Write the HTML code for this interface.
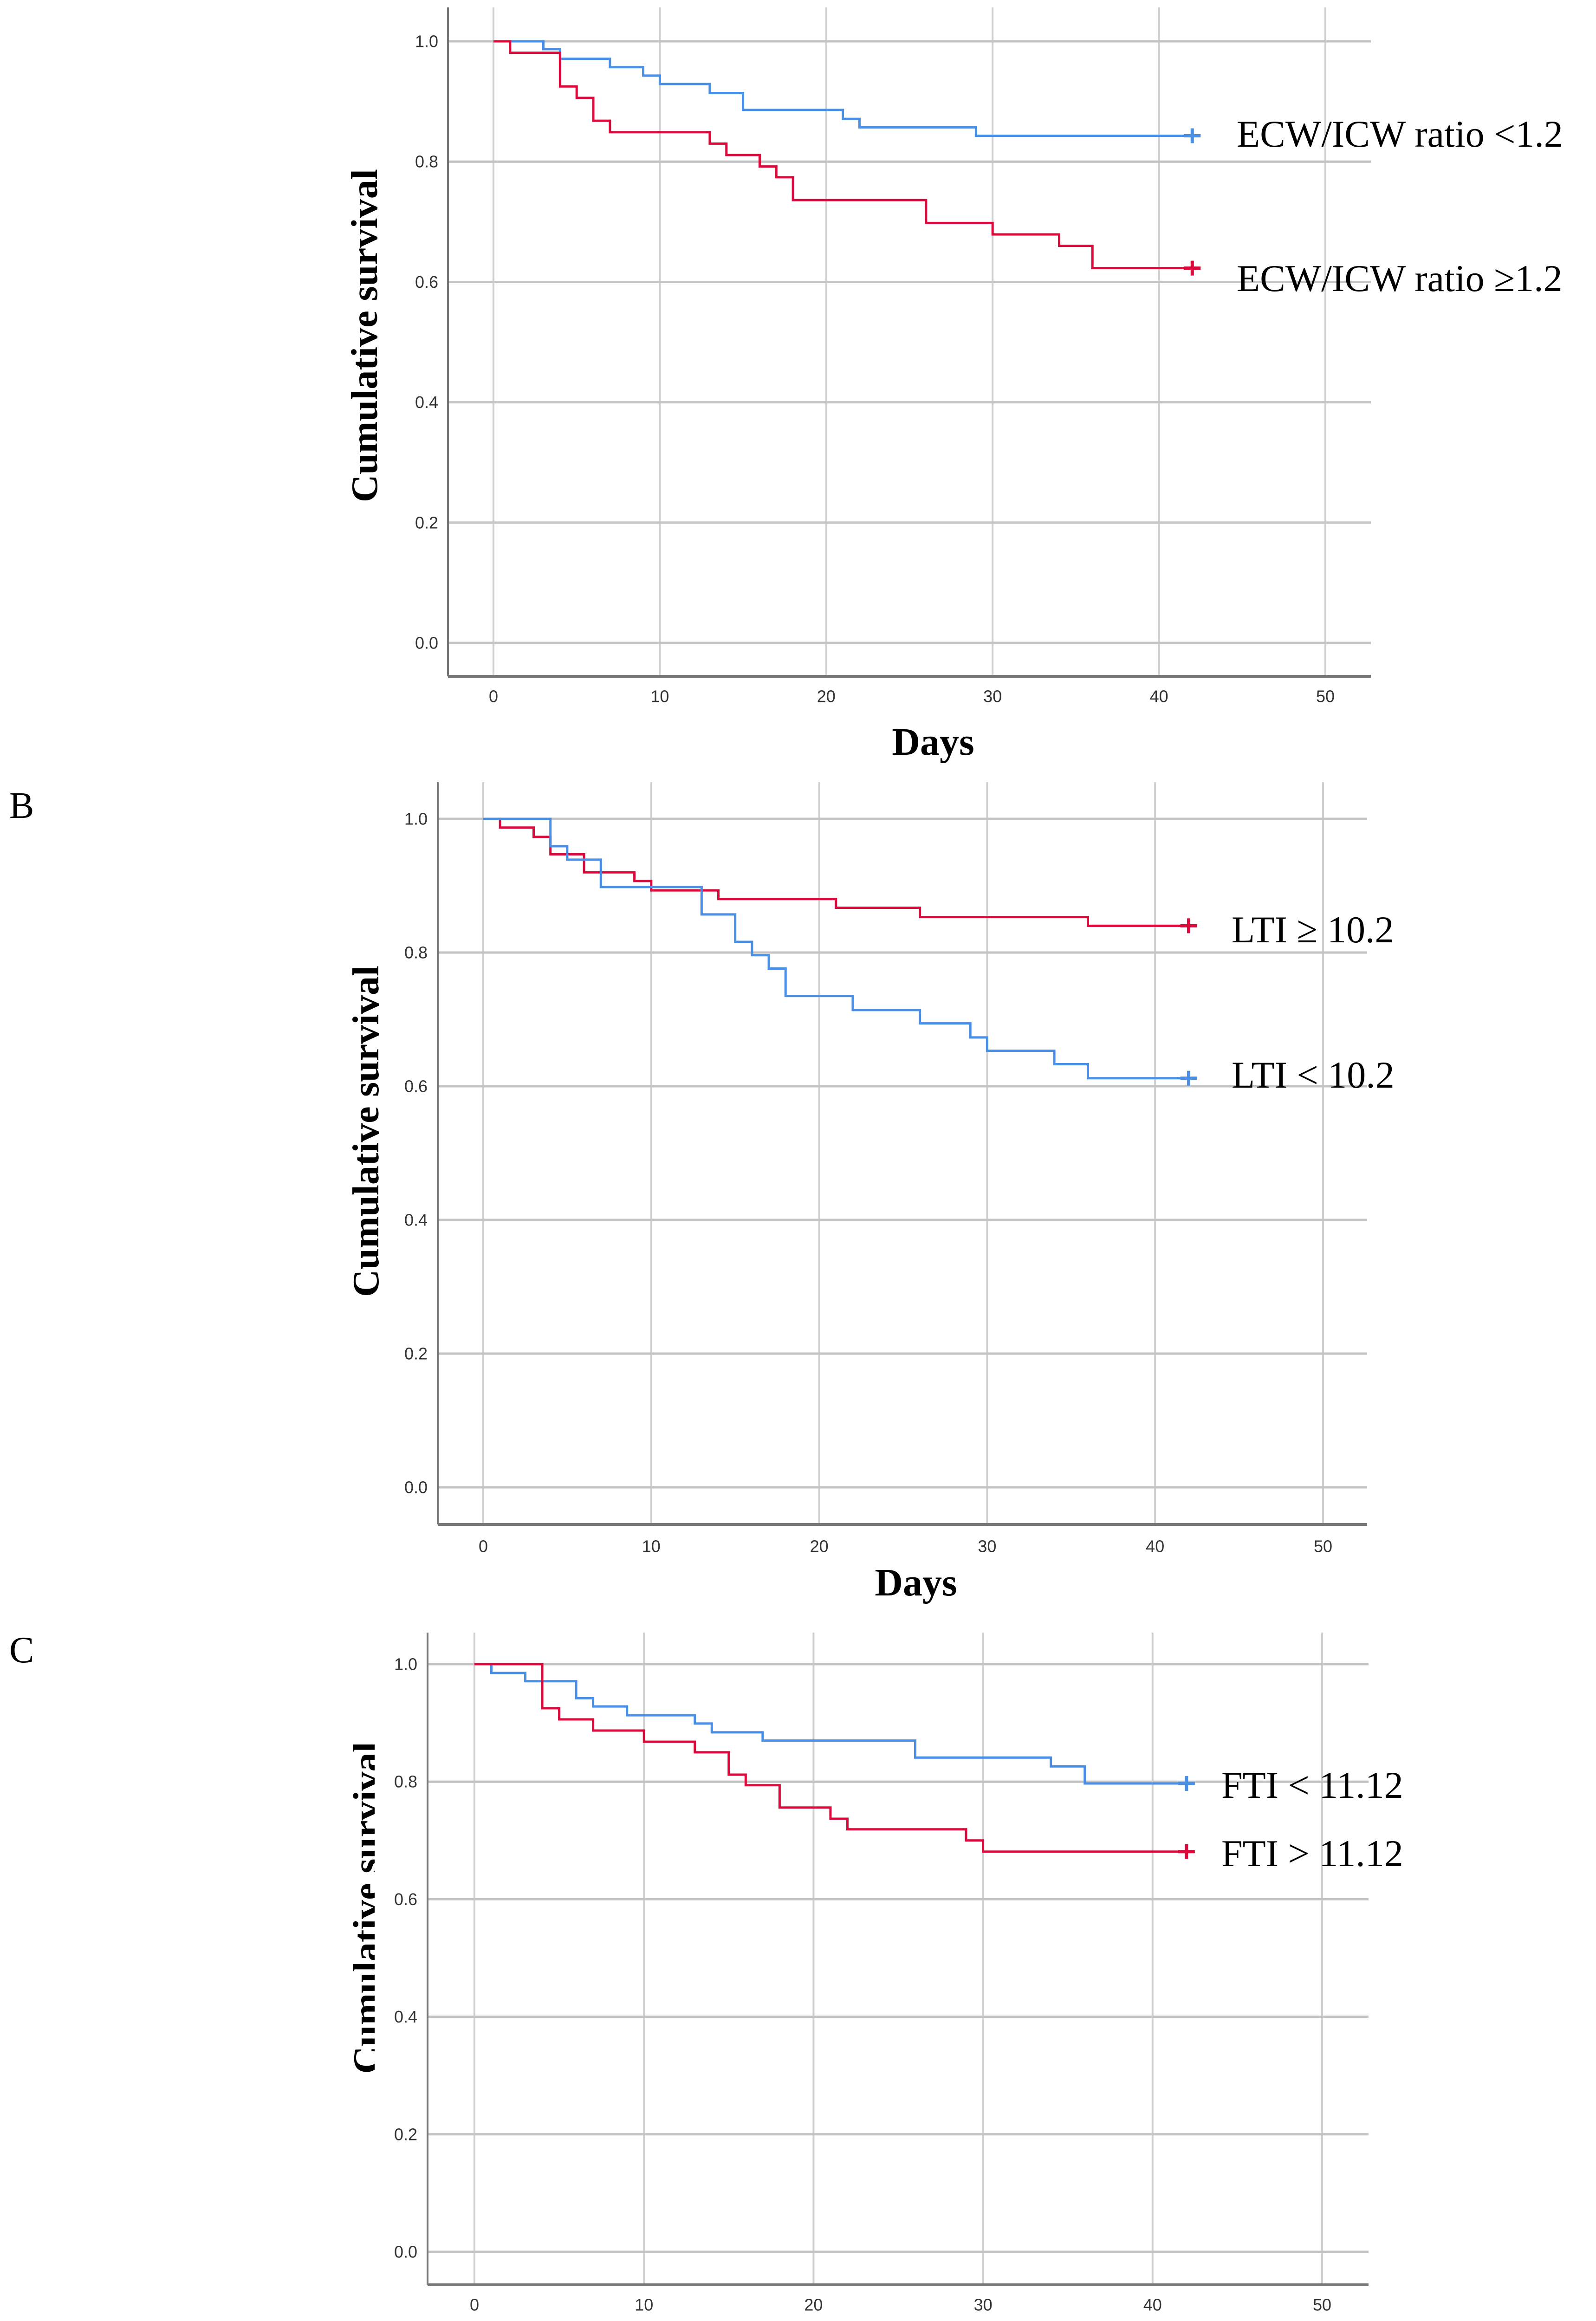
<!DOCTYPE html>
<html><head><meta charset="utf-8"><style>
html,body{margin:0;padding:0;background:#fff;width:3438px;height:5125px;overflow:hidden;}
svg{display:block;overflow:hidden;}
</style></head><body>
<svg id="fig" width="3438" height="5125" viewBox="0 0 3438 5125" xmlns="http://www.w3.org/2000/svg">
<defs><clipPath id="clipC" clipPathUnits="userSpaceOnUse"><rect x="600" y="3600" width="207" height="1000"/></clipPath></defs>
<text x="20" y="1762" font-family="Liberation Serif, serif" font-size="80">B</text>
<text x="20" y="3581" font-family="Liberation Serif, serif" font-size="80">C</text>
</svg>
<script>
// ---- Panel A data ----
const aBlueTimes = [0, 3, 4, 7, 9, 10, 13, 15, 21, 22, 29, 42];
const aBlueSurv  = [1.0, 0.987, 0.971, 0.957, 0.943, 0.929, 0.914, 0.886, 0.871, 0.857, 0.843, 0.843];
const aRedTimes  = [0, 1, 4, 5, 6, 7, 13, 14, 16, 17, 18, 26, 30, 34, 36, 42];
const aRedSurv   = [1.0, 0.981, 0.925, 0.906, 0.868, 0.849, 0.830, 0.811, 0.792, 0.774, 0.736, 0.698, 0.679, 0.660, 0.623, 0.623];
// ---- Panel B data ----
const bRedTimes  = [0, 1, 3, 4, 6, 9, 10, 14, 21, 26, 36, 42];
const bRedSurv   = [1.0, 0.987, 0.973, 0.947, 0.920, 0.907, 0.893, 0.880, 0.867, 0.853, 0.840, 0.840];
const bBlueTimes = [0, 4, 5, 7, 13, 15, 16, 17, 18, 22, 26, 29, 30, 34, 36, 42];
const bBlueSurv  = [1.0, 0.959, 0.939, 0.898, 0.857, 0.816, 0.796, 0.776, 0.735, 0.714, 0.694, 0.673, 0.653, 0.633, 0.612, 0.612];
// ---- Panel C data ----
const cBlueTimes = [0, 1, 3, 6, 7, 9, 13, 14, 17, 26, 34, 36, 42];
const cBlueSurv  = [1.0, 0.985, 0.971, 0.942, 0.928, 0.913, 0.899, 0.884, 0.870, 0.841, 0.826, 0.797, 0.797];
const cRedTimes  = [0, 4, 5, 7, 10, 13, 15, 16, 18, 21, 22, 29, 30, 42];
const cRedSurv   = [1.0, 0.925, 0.906, 0.887, 0.868, 0.850, 0.812, 0.794, 0.756, 0.737, 0.719, 0.700, 0.681, 0.681];
// ---- ticks ----
const xTicks = [0, 10, 20, 30, 40, 50];
const yTicks = [0.0, 0.2, 0.4, 0.6, 0.8, 1.0];
const yTickLabels = ["0.0", "0.2", "0.4", "0.6", "0.8", "1.0"];

const NS = "http://www.w3.org/2000/svg";
const svg = document.getElementById('fig');
const BLUE = "#4a8fe6", RED = "#db0a3c";

function mk(tag, attrs, parent) {
  const e = document.createElementNS(NS, tag);
  for (const k in attrs) e.setAttribute(k, attrs[k]);
  (parent || svg).appendChild(e);
  return e;
}

function panel(p) {
  const g = mk('g', {});
  
  
  const xs = d => p.x0 + (p.x50 - p.x0) * d / 50;
  const ys = v => p.y0 + (p.y1 - p.y0) * v;
  xTicks.forEach(t => {
    const l = mk('line', {x1: xs(t), x2: xs(t), y1: p.top, y2: p.bottom, stroke: '#cfcfcf', 'stroke-width': 4}, g);
    
    
    const tx = mk('text', {x: xs(t), y: p.xTickY, 'text-anchor': 'middle', 'dominant-baseline': 'central', 'font-family': 'Liberation Sans, sans-serif', 'font-size': 36, fill: '#333'}, g);
    tx.textContent = t;
    
    
  });
  yTicks.forEach((t, i) => {
    const l = mk('line', {x1: p.left, x2: p.right, y1: ys(t), y2: ys(t), stroke: '#c4c4c4', 'stroke-width': 5}, g);
    
    
    const tx = mk('text', {x: p.yTickX, y: ys(t), 'text-anchor': 'end', 'dominant-baseline': 'central', 'font-family': 'Liberation Sans, sans-serif', 'font-size': 36, fill: '#333'}, g);
    tx.textContent = yTickLabels[i];
    
    
  });
  const ya = mk('line', {x1: p.left, x2: p.left, y1: p.top, y2: p.bottom, stroke: '#777', 'stroke-width': 4}, g);
  
  
  const xa = mk('line', {x1: p.left, x2: p.right, y1: p.bottom, y2: p.bottom, stroke: '#777', 'stroke-width': 6}, g);
  
  
  p.series.forEach(s => {
    let d = 'M' + xs(s.t[0]) + ' ' + ys(s.v[0]);
    for (let i = 1; i < s.t.length; i++) {
      d += ' H' + xs(s.t[i]) + ' V' + ys(s.v[i]);
    }
    const path = mk('path', {d: d, fill: 'none', stroke: s.color, 'stroke-width': 5}, g);
    
    
    const n = s.t.length - 1;
    const cx = xs(s.t[n]), cy = ys(s.v[n]);
    const cm = mk('path', {d: 'M' + (cx - 18) + ' ' + cy + ' H' + (cx + 18) + ' M' + cx + ' ' + (cy - 16) + ' V' + (cy + 16), stroke: s.color, 'stroke-width': 7, fill: 'none'}, g);
    
    
    const lt = mk('text', {x: p.legX, y: s.legY, 'font-family': 'Liberation Serif, serif', 'font-size': 82, fill: '#000'}, g);
    lt.textContent = s.label;
    
    
  });
  const holder = mk('g', {}, g);
  if (p.clip) holder.setAttribute('clip-path', 'url(#clipC)');
  const yt = mk('text', {x: 0, y: 0, transform: 'translate(' + p.yTitleX + ',' + p.yTitleY + ') rotate(-90)', 'text-anchor': 'middle', 'font-family': 'Liberation Serif, serif', 'font-weight': 'bold', 'font-size': 80, textLength: p.yTitleLen, lengthAdjust: 'spacingAndGlyphs', fill: '#000'}, holder);
  yt.textContent = 'Cumulative survival';
  
  
  const xt = mk('text', {x: p.xTitleX, y: p.xTitleY, 'text-anchor': 'middle', 'font-family': 'Liberation Serif, serif', 'font-weight': 'bold', 'font-size': 84, fill: '#000'}, g);
  xt.textContent = p.xTitle;
  
  
}

panel({name: 'panel-a-chart', left: 965, right: 2953, top: 16, bottom: 1457, x0: 1063, x50: 2855, y1: 89, y0: 1385,
  xTickY: 1500, yTickX: 944, legX: 2664, xTitle: 'Days', xTitleX: 2010, xTitleY: 1626,
  yTitleX: 812, yTitleY: 723, yTitleLen: 718,
  series: [
    {name: 'series-ecw-lt-1.2', t: aBlueTimes, v: aBlueSurv, color: BLUE, label: 'ECW/ICW ratio <1.2', legY: 316},
    {name: 'series-ecw-ge-1.2', t: aRedTimes, v: aRedSurv, color: RED, label: 'ECW/ICW ratio \u22651.2', legY: 627}
  ]});
panel({name: 'panel-b-chart', left: 943, right: 2945, top: 1685, bottom: 3284, x0: 1041, x50: 2850, y1: 1764, y0: 3204,
  xTickY: 3331, yTickX: 921, legX: 2653, xTitle: 'Days', xTitleX: 1973, xTitleY: 3437,
  yTitleX: 815, yTitleY: 2437, yTitleLen: 714,
  series: [
    {name: 'series-lti-ge-10.2', t: bRedTimes, v: bRedSurv, color: RED, label: 'LTI \u2265 10.2', legY: 2030},
    {name: 'series-lti-lt-10.2', t: bBlueTimes, v: bBlueSurv, color: BLUE, label: 'LTI < 10.2', legY: 2343}
  ]});
panel({name: 'panel-c-chart', left: 921, right: 2948, top: 3517, bottom: 4922, x0: 1022, x50: 2848, y1: 3585, y0: 4851,
  xTickY: 4965, yTickX: 899, legX: 2631, xTitle: 'Day', xTitleX: 1938, xTitleY: 5057,
  yTitleX: 816, yTitleY: 4110, yTitleLen: 715, clip: true,
  series: [
    {name: 'series-fti-lt-11.12', t: cBlueTimes, v: cBlueSurv, color: BLUE, label: 'FTI < 11.12', legY: 3873},
    {name: 'series-fti-gt-11.12', t: cRedTimes, v: cRedSurv, color: RED, label: 'FTI > 11.12', legY: 4020}
  ]});
</script>
</body></html>
